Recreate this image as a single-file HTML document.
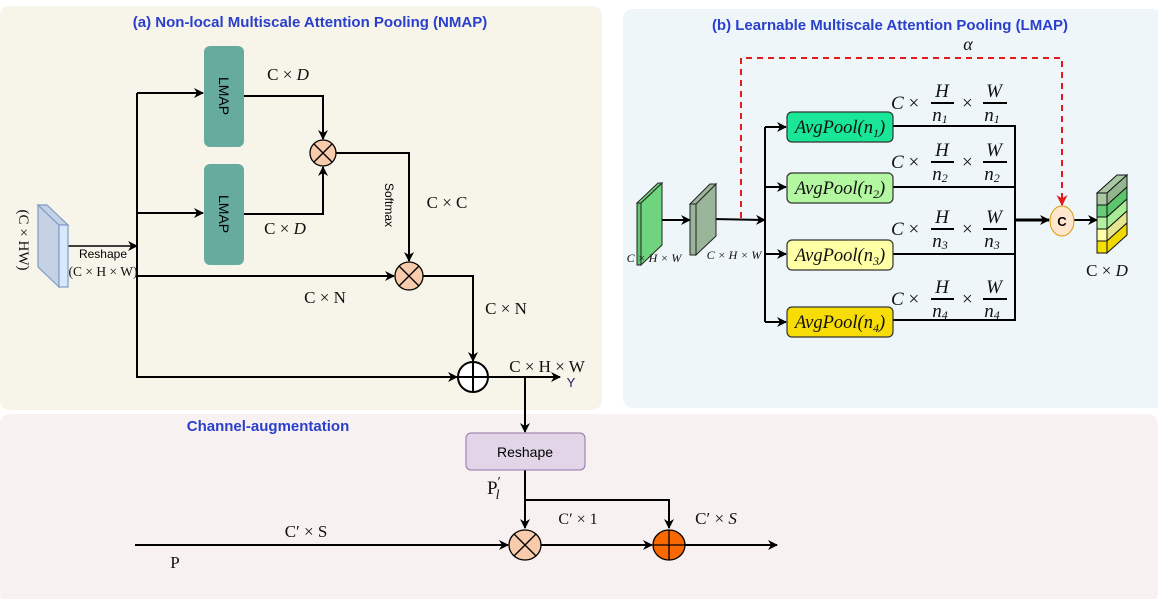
<!DOCTYPE html>
<html><head><meta charset="utf-8"><style>
html,body{margin:0;padding:0;background:#fff;}
svg{display:block;font-size:17px;}
.t{font-family:"Liberation Serif",serif;fill:#111;}
.i{font-style:italic;}
.s{font-family:"Liberation Sans",sans-serif;}
.ttl{font-family:"Liberation Sans",sans-serif;font-weight:bold;font-size:15px;fill:#2a3fcc;}
</style></head><body>
<svg width="1158" height="599" viewBox="0 0 1158 599" xmlns="http://www.w3.org/2000/svg">
<defs>
<marker id="a" viewBox="0 0 10 10" refX="9" refY="5" markerWidth="12" markerHeight="10" orient="auto" markerUnits="userSpaceOnUse"><path d="M0,0 L10,5 L0,10 L3,5 z" fill="#000"/></marker>
<marker id="r" viewBox="0 0 10 10" refX="9" refY="5" markerWidth="11" markerHeight="11" orient="auto" markerUnits="userSpaceOnUse"><path d="M0,0 L10,5 L0,10 L3,5 z" fill="#e31a1c"/></marker>
</defs>
<rect x="0" y="6" width="602" height="404" rx="10" fill="#f7f4e9"/>
<rect x="623" y="9" width="540" height="399" rx="10" fill="#eef6fa"/>
<rect x="0" y="414" width="1158" height="190" rx="10" fill="#f7f2f1"/>
<text class="ttl" x="310" y="27" text-anchor="middle">(a) Non-local Multiscale Attention Pooling (NMAP)</text>
<text class="ttl" x="890" y="30" text-anchor="middle">(b) Learnable Multiscale Attention Pooling (LMAP)</text>
<text class="ttl" x="268" y="431" text-anchor="middle">Channel-augmentation</text>

<g stroke="#000" stroke-width="2" fill="none">
<line x1="68" y1="246" x2="137" y2="246" marker-end="url(#a)" stroke-width="1.5"/>
<line x1="137" y1="93" x2="137" y2="378"/>
<line x1="137" y1="93" x2="203" y2="93" marker-end="url(#a)"/>
<line x1="137" y1="213" x2="203" y2="213" marker-end="url(#a)"/>
<line x1="137" y1="276" x2="394" y2="276" marker-end="url(#a)"/>
<line x1="137" y1="377" x2="457" y2="377" marker-end="url(#a)"/>
<polyline points="244,96 323,96 323,139" marker-end="url(#a)"/>
<polyline points="244,214 323,214 323,167" marker-end="url(#a)"/>
<polyline points="336,153 409,153 409,261" marker-end="url(#a)"/>
<polyline points="423,276 473,276 473,361" marker-end="url(#a)"/>
<line x1="488" y1="377" x2="560" y2="377" marker-end="url(#a)"/>
<line x1="525" y1="377" x2="525" y2="432" marker-end="url(#a)"/>
<line x1="525" y1="470" x2="525" y2="528" marker-end="url(#a)"/>
<polyline points="525,500 669,500 669,528" marker-end="url(#a)"/>
<line x1="135" y1="545" x2="508" y2="545" marker-end="url(#a)"/>
<line x1="541" y1="545" x2="652" y2="545" marker-end="url(#a)"/>
<line x1="685" y1="545" x2="777" y2="545" marker-end="url(#a)"/>
<line x1="662" y1="220" x2="690" y2="220" marker-end="url(#a)"/>
<line x1="713" y1="219" x2="765" y2="220" marker-end="url(#a)"/>
<line x1="765" y1="127" x2="765" y2="322"/>
<line x1="765" y1="127" x2="786" y2="127" marker-end="url(#a)"/>
<line x1="765" y1="187" x2="786" y2="187" marker-end="url(#a)"/>
<line x1="765" y1="254" x2="786" y2="254" marker-end="url(#a)"/>
<line x1="765" y1="322" x2="786" y2="322" marker-end="url(#a)"/>
<polyline points="893,126 1015,126 1015,320 893,320"/>
<line x1="893" y1="187" x2="1015" y2="187"/>
<line x1="893" y1="254" x2="1015" y2="254"/>
<line x1="1015" y1="220" x2="1049" y2="220" marker-end="url(#a)" stroke-width="3"/>
<line x1="1074" y1="220" x2="1097" y2="220" marker-end="url(#a)"/>
</g>
<polyline points="741,218 741,58 1062,58 1062,205" fill="none" stroke="#e31a1c" stroke-width="2" stroke-dasharray="6,5" marker-end="url(#r)"/>

<polygon points="38,205 59,225 59,287 38,267" fill="#c5d2e3" stroke="#7d9ccb" stroke-width="1.2"/>
<polygon points="38,205 47,205 68,225 59,225" fill="#c5d2e3" stroke="#7d9ccb" stroke-width="1.2"/>
<rect x="59" y="225" width="9" height="62" fill="#dae8fc" stroke="#7d9ccb" stroke-width="1.2"/>
<text class="t" font-size="15" transform="translate(19,240) rotate(90)" text-anchor="middle">(C × HW)</text>
<text class="s" x="103" y="258" font-size="12" text-anchor="middle">Reshape</text>
<text class="t" x="103" y="276" font-size="13.5" text-anchor="middle">(C × H × W)</text>

<rect x="204" y="46" width="40" height="101" rx="6" fill="#67ab9f"/>
<rect x="204" y="164" width="40" height="101" rx="6" fill="#67ab9f"/>
<text class="s" font-size="14" transform="translate(219,96) rotate(90)" text-anchor="middle">LMAP</text>
<text class="s" font-size="14" transform="translate(219,214) rotate(90)" text-anchor="middle">LMAP</text>
<text class="t" x="288" y="80" text-anchor="middle">C × <tspan class="i">D</tspan></text>
<text class="t" x="285" y="234" text-anchor="middle">C × <tspan class="i">D</tspan></text>
<text class="s" font-size="12" transform="translate(385,205) rotate(90)" text-anchor="middle">Softmax</text>
<text class="t" x="447" y="208" text-anchor="middle">C × C</text>
<text class="t" x="325" y="303" text-anchor="middle">C × N</text>
<text class="t" x="506" y="314" text-anchor="middle">C × N</text>
<text class="t" x="547" y="372" text-anchor="middle">C × H × W</text>
<text class="s" x="571" y="387" font-size="13" fill="#1a1a66" text-anchor="middle">Y</text>

<g stroke="#000" stroke-width="1.3">
<ellipse cx="323" cy="153" rx="13" ry="13" fill="#f8cbad"/>
<line x1="314" y1="144" x2="332" y2="162"/><line x1="332" y1="144" x2="314" y2="162"/>
<ellipse cx="409" cy="276" rx="14" ry="14" fill="#f8cbad"/>
<line x1="399" y1="266" x2="419" y2="286"/><line x1="419" y1="266" x2="399" y2="286"/>
<circle cx="473" cy="377" r="15" fill="#fff" stroke-width="2"/>
<line x1="458" y1="377" x2="488" y2="377" stroke-width="2"/><line x1="473" y1="362" x2="473" y2="392" stroke-width="2"/>
<ellipse cx="525" cy="545" rx="16" ry="15" fill="#f8cbad"/>
<line x1="514" y1="534" x2="536" y2="556"/><line x1="536" y1="534" x2="514" y2="556"/>
<ellipse cx="669" cy="545" rx="16" ry="15" fill="#fa6800"/>
<line x1="653" y1="545" x2="685" y2="545"/><line x1="669" y1="530" x2="669" y2="560"/>
</g>

<rect x="466" y="433" width="119" height="37" rx="5" fill="#e1d5e7" stroke="#9673a6"/>
<text class="s" x="525" y="457" font-size="14" text-anchor="middle">Reshape</text>
<text class="t" x="487" y="494" font-size="19">P<tspan font-size="14" dy="-8">′</tspan><tspan class="i" font-size="14" dy="13" dx="-5">l</tspan></text>
<text class="t" x="578" y="524" font-size="16" text-anchor="middle">C′ × 1</text>
<text class="t" x="716" y="524" text-anchor="middle">C′ × <tspan class="i">S</tspan></text>
<text class="t" x="306" y="537" text-anchor="middle">C′ × S</text>
<text class="t" x="175" y="568" text-anchor="middle">P</text>

<polygon points="641,203 662,183 662,245 641,265" fill="#6fd47e" stroke="#222"/>
<polygon points="637,203 658,183 662,183 641,203" fill="#6fd47e" stroke="#222"/>
<rect x="637" y="203" width="4" height="62" fill="#60c870" stroke="#222"/>
<polygon points="696,204 716,184 716,236 696,255" fill="#9bb59b" stroke="#222"/>
<polygon points="690,204 710,184 716,184 696,204" fill="#9bb59b" stroke="#222"/>
<rect x="690" y="204" width="6" height="51" fill="#9bb59b" stroke="#222"/>
<text class="t i" x="654" y="262" font-size="12" text-anchor="middle">C × H × W</text>
<text class="t i" x="734" y="259" font-size="12" text-anchor="middle">C × H × W</text>
<text class="t i" x="968" y="50" font-size="18" text-anchor="middle">α</text>

<g stroke="#333" stroke-width="1.2">
<rect x="787" y="112" width="106" height="30" rx="5" fill="#19e697"/>
<rect x="787" y="173" width="106" height="30" rx="5" fill="#b3f7a0"/>
<rect x="787" y="240" width="106" height="30" rx="5" fill="#ffffa6"/>
<rect x="787" y="307" width="106" height="30" rx="5" fill="#f7dc05"/>
</g>
<g class="t i" font-size="18.5" text-anchor="middle">
<text x="840" y="133">AvgPool(n<tspan font-size="12" dy="4">1</tspan><tspan dy="-4">)</tspan></text>
<text x="840" y="194">AvgPool(n<tspan font-size="12" dy="4">2</tspan><tspan dy="-4">)</tspan></text>
<text x="840" y="261">AvgPool(n<tspan font-size="12" dy="4">3</tspan><tspan dy="-4">)</tspan></text>
<text x="840" y="328">AvgPool(n<tspan font-size="12" dy="4">4</tspan><tspan dy="-4">)</tspan></text>
</g>
<g class="t" font-size="19">
<g transform="translate(0,103)">
<text x="891" y="6"><tspan class="i">C</tspan> ×</text><text x="942" y="-6" class="i" text-anchor="middle">H</text><line x1="931" y1="0" x2="954" y2="0" stroke="#000" stroke-width="2"/><text x="940" y="18" class="i" text-anchor="middle">n<tspan font-size="12" dy="2">1</tspan></text>
<text x="962" y="6">×</text><text x="994" y="-6" class="i" text-anchor="middle">W</text><line x1="983" y1="0" x2="1007" y2="0" stroke="#000" stroke-width="2"/><text x="992" y="18" class="i" text-anchor="middle">n<tspan font-size="12" dy="2">1</tspan></text></g>
<g transform="translate(0,162)">
<text x="891" y="6"><tspan class="i">C</tspan> ×</text><text x="942" y="-6" class="i" text-anchor="middle">H</text><line x1="931" y1="0" x2="954" y2="0" stroke="#000" stroke-width="2"/><text x="940" y="18" class="i" text-anchor="middle">n<tspan font-size="12" dy="2">2</tspan></text>
<text x="962" y="6">×</text><text x="994" y="-6" class="i" text-anchor="middle">W</text><line x1="983" y1="0" x2="1007" y2="0" stroke="#000" stroke-width="2"/><text x="992" y="18" class="i" text-anchor="middle">n<tspan font-size="12" dy="2">2</tspan></text></g>
<g transform="translate(0,229)">
<text x="891" y="6"><tspan class="i">C</tspan> ×</text><text x="942" y="-6" class="i" text-anchor="middle">H</text><line x1="931" y1="0" x2="954" y2="0" stroke="#000" stroke-width="2"/><text x="940" y="18" class="i" text-anchor="middle">n<tspan font-size="12" dy="2">3</tspan></text>
<text x="962" y="6">×</text><text x="994" y="-6" class="i" text-anchor="middle">W</text><line x1="983" y1="0" x2="1007" y2="0" stroke="#000" stroke-width="2"/><text x="992" y="18" class="i" text-anchor="middle">n<tspan font-size="12" dy="2">3</tspan></text></g>
<g transform="translate(0,299)">
<text x="891" y="6"><tspan class="i">C</tspan> ×</text><text x="942" y="-6" class="i" text-anchor="middle">H</text><line x1="931" y1="0" x2="954" y2="0" stroke="#000" stroke-width="2"/><text x="940" y="18" class="i" text-anchor="middle">n<tspan font-size="12" dy="2">4</tspan></text>
<text x="962" y="6">×</text><text x="994" y="-6" class="i" text-anchor="middle">W</text><line x1="983" y1="0" x2="1007" y2="0" stroke="#000" stroke-width="2"/><text x="992" y="18" class="i" text-anchor="middle">n<tspan font-size="12" dy="2">4</tspan></text></g>
</g>

<ellipse cx="1062" cy="221" rx="12" ry="15" fill="#ffe6cc" stroke="#d79b00"/>
<text class="s" x="1062" y="226" font-size="13" font-weight="bold" text-anchor="middle">C</text>
<g stroke="#111" stroke-width="1">
<polygon points="1097,193 1117,175 1127,175 1107,193" fill="#a9c7a3"/>
<polygon points="1107,193 1127,175 1127,187 1107,205" fill="#94b68f"/>
<polygon points="1107,205 1127,187 1127,199 1107,217" fill="#5cc56c"/>
<polygon points="1107,217 1127,199 1127,211 1107,229" fill="#a8eb95"/>
<polygon points="1107,229 1127,211 1127,223 1107,241" fill="#e5e590"/>
<polygon points="1107,241 1127,223 1127,235 1107,253" fill="#f0d800"/>
<rect x="1097" y="193" width="10" height="12" fill="#a9c7a3"/>
<rect x="1097" y="205" width="10" height="12" fill="#66cc77"/>
<rect x="1097" y="217" width="10" height="12" fill="#b3f0a0"/>
<rect x="1097" y="229" width="10" height="12" fill="#ffffa8"/>
<rect x="1097" y="241" width="10" height="12" fill="#f5e000"/>
</g>
<text class="t" x="1107" y="276" text-anchor="middle">C × <tspan class="i">D</tspan></text>
</svg>
</body></html>
